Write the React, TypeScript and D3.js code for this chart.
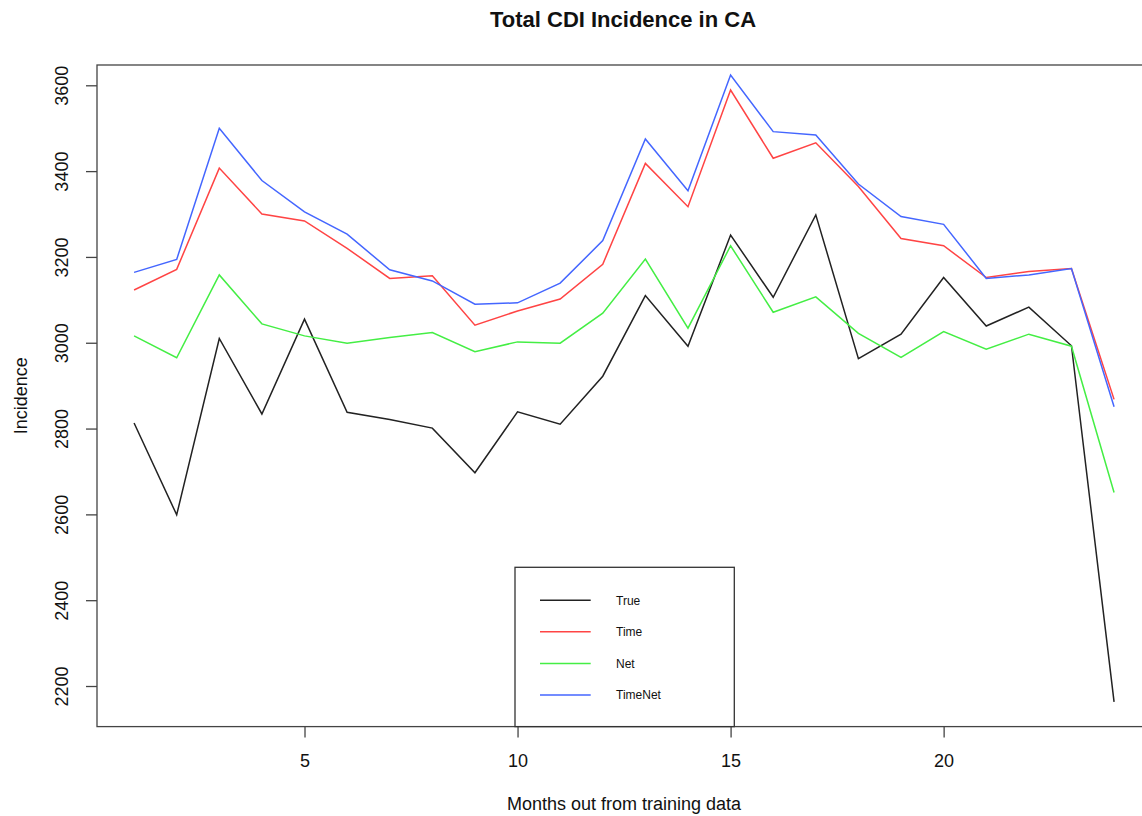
import React, { useEffect, useRef } from 'react';
import * as d3 from 'd3';

// months out from training data
const months = [1, 2, 3, 4, 5, 6, 7, 8, 9, 10, 11, 12, 13, 14, 15, 16, 17, 18, 19, 20, 21, 22, 23, 24];

// series values
const trueVals = [2813, 2599, 3010, 2834, 3055, 2838, 2821, 2801, 2697, 2839, 2810, 2922, 3110, 2992, 3251, 3106, 3298, 2963, 3020, 3152, 3039, 3083, 2993, 2163];
const timeVals = [3123, 3171, 3407, 3300, 3284, 3220, 3150, 3156, 3041, 3074, 3102, 3183, 3418, 3317, 3589, 3430, 3466, 3364, 3243, 3226, 3152, 3166, 3173, 2868];
const netVals = [3016, 2965, 3158, 3044, 3016, 2999, 3012, 3024, 2979, 3002, 2999, 3069, 3195, 3034, 3226, 3071, 3107, 3022, 2966, 3026, 2985, 3020, 2992, 2651];
const timeNetVals = [3164, 3194, 3500, 3378, 3305, 3253, 3170, 3144, 3090, 3093, 3139, 3238, 3475, 3354, 3624, 3492, 3484, 3370, 3294, 3276, 3150, 3158, 3173, 2851];

const seriesNames = ['True', 'Time', 'Net', 'TimeNet'];
const seriesColors = ['#222222', '#ff4444', '#44ee44', '#4466ff'];

const xTicks = [5, 10, 15, 20];
const yTicks = [2200, 2400, 2600, 2800, 3000, 3200, 3400, 3600];

const FONT = '"Liberation Sans", Arial, Helvetica, sans-serif';

export default function App() {
	const ref = useRef<SVGSVGElement>(null);

	useEffect(() => {
		const svg = d3.select(ref.current);
		svg.selectAll('*').remove();

		const left = 97, right = 1149, top = 65, bottom = 726.6;

		// Scales
		var x = d3.scaleLinear().domain([0.13, 24.82]).range([left, right]);
		var y = d3.scaleLinear().domain([2105.4, 3647.3]).range([bottom, top]);

		const all = [trueVals, timeVals, netVals, timeNetVals];

		// Lines
		var line = d3
			.line<number>()
			.x((d, i) => x(months[i]))
			.y(d => y(d));

		svg
			.append('g')
			.selectAll('path')
			.data(all)
			.enter()
			.append('path')
			.attr('d', d => line(d))
			.attr('fill', 'none')
			.attr('stroke', (d, i) => seriesColors[i])
			.attr('stroke-width', 1.5)
			.attr('stroke-linejoin', 'miter');

		// Plot box (left, top, bottom; right side falls off the picture)
		svg
			.append('rect')
			.attr('x', left)
			.attr('y', top)
			.attr('width', right - left)
			.attr('height', bottom - top)
			.attr('fill', 'none')
			.attr('stroke', '#444')
			.attr('stroke-width', 1.3);

		// X axis
		var xAxis = d3.axisBottom(x).tickValues(xTicks).tickSize(11).tickPadding(16.7).tickFormat(d3.format('d'));
		var gx = svg
			.append('g')
			.attr('transform', `translate(0,${bottom})`)
			.call(xAxis);
		gx.select('.domain').remove();
		gx.selectAll('line').attr('stroke', '#444').attr('stroke-width', 1.3);
		gx.selectAll('text').attr('font-size', 18).attr('font-family', FONT).attr('fill', '#111');

		// Y axis
		var yAxis = d3.axisLeft(y).tickValues(yTicks).tickSize(11).tickFormat(d3.format('d'));
		var gy = svg
			.append('g')
			.attr('transform', `translate(${left},0)`)
			.call(yAxis);
		gy.select('.domain').remove();
		gy.selectAll('line').attr('stroke', '#444').attr('stroke-width', 1.3);
		gy.selectAll('text')
			.attr('x', null)
			.attr('dy', null)
			.attr('transform', 'translate(-29,0) rotate(-90)')
			.attr('text-anchor', 'middle')
			.attr('font-size', 18)
			.attr('font-family', FONT)
			.attr('fill', '#111');

		// Titles
		svg
			.append('text')
			.attr('x', 623)
			.attr('y', 27)
			.attr('text-anchor', 'middle')
			.attr('font-family', FONT)
			.attr('font-weight', 'bold')
			.attr('font-size', 22)
			.attr('fill', '#111')
			.text('Total CDI Incidence in CA');

		svg
			.append('text')
			.attr('x', 624)
			.attr('y', 810)
			.attr('text-anchor', 'middle')
			.attr('font-family', FONT)
			.attr('font-size', 18)
			.attr('fill', '#111')
			.text('Months out from training data');

		svg
			.append('text')
			.attr('transform', `translate(27,${(top + bottom) / 2}) rotate(-90)`)
			.attr('text-anchor', 'middle')
			.attr('font-family', FONT)
			.attr('font-size', 18)
			.attr('fill', '#111')
			.text('Incidence');

		// Legend
		var lg = svg.append('g');
		lg.append('rect')
			.attr('x', 515)
			.attr('y', 567.3)
			.attr('width', 219.3)
			.attr('height', bottom - 567.3)
			.attr('fill', 'white')
			.attr('stroke', '#333')
			.attr('stroke-width', 1.3);

		var legendY = d3.scalePoint<string>().domain(seriesNames).range([600.3, 695]);
		var items = lg
			.selectAll('g.item')
			.data(seriesNames)
			.enter()
			.append('g')
			.attr('class', 'item')
			.attr('transform', d => `translate(0,${legendY(d)})`);
		items
			.append('line')
			.attr('x1', 540)
			.attr('x2', 590.7)
			.attr('stroke', (d, i) => seriesColors[i])
			.attr('stroke-width', 1.5);
		items
			.append('text')
			.attr('x', 616)
			.attr('dy', 4.4)
			.attr('font-family', FONT)
			.attr('font-size', 12)
			.attr('fill', '#111')
			.text(d => d);
	}, []);

	return (
		<svg
			ref={ref}
			width={1142}
			height={816}
			style={{ position: 'absolute', left: 0, top: 0, display: 'block', background: 'white' }}
		/>
	);
}
